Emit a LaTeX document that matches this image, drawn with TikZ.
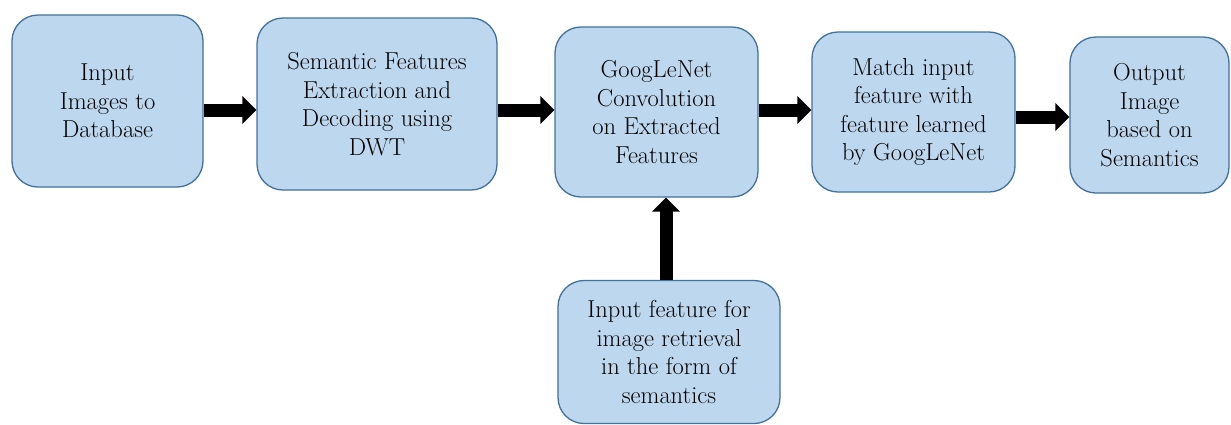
\documentclass[tikz,border=0pt]{standalone}
\usetikzlibrary{arrows.meta}
\definecolor{boxfill}{HTML}{BDD7EE}
\definecolor{boxline}{HTML}{41719C}
\begin{document}
\begin{tikzpicture}[x=1pt,y=-1pt,
  stage/.style={draw=boxline, fill=boxfill, line width=1.3pt,
    rounded corners=26pt, align=center, inner sep=0pt,
    font=\fontsize{24.5}{28.5}\selectfont},
  flow/.style={line width=13pt,
    -{Triangle[length=14pt,width=27pt]}, black}]
\useasboundingbox (0,0) rectangle (1231,424);

% processing stages
\node[stage, minimum width=191pt, minimum height=172pt] (b1) at (107.5,101)
  {Input\\Images to\\Database};
\node[stage, minimum width=240pt, minimum height=172pt] (b2) at (377,104)
  {Semantic Features\\Extraction and\\Decoding using\\DWT};
\node[stage, minimum width=203pt, minimum height=170pt] (b3) at (656.5,112)
  {GoogLeNet\\Convolution\\on Extracted\\Features};
\node[stage, minimum width=203pt, minimum height=160pt] (b4) at (913.5,112)
  {Match input\\feature with\\feature learned\\by GoogLeNet};
\node[stage, minimum width=159pt, minimum height=156pt] (b5) at (1149.5,115)
  {Output\\Image\\based on\\Semantics};
\node[stage, minimum width=222pt, minimum height=143pt] (b6) at (669,352)
  {Input feature for\\image retrieval\\in the form of\\semantics};

% connectors
\draw[flow] (b1.east |- 0,110) -- (b2.west |- 0,110);
\draw[flow] (b2.east |- 0,110) -- (b3.west |- 0,110);
\draw[flow] (b3.east |- 0,110) -- (b4.west |- 0,110);
\draw[flow] (b4.east |- 0,117) -- (b5.west |- 0,117);
\draw[flow] (b6.north -| 666,0) -- (b3.south -| 666,0);
\end{tikzpicture}
\end{document}
